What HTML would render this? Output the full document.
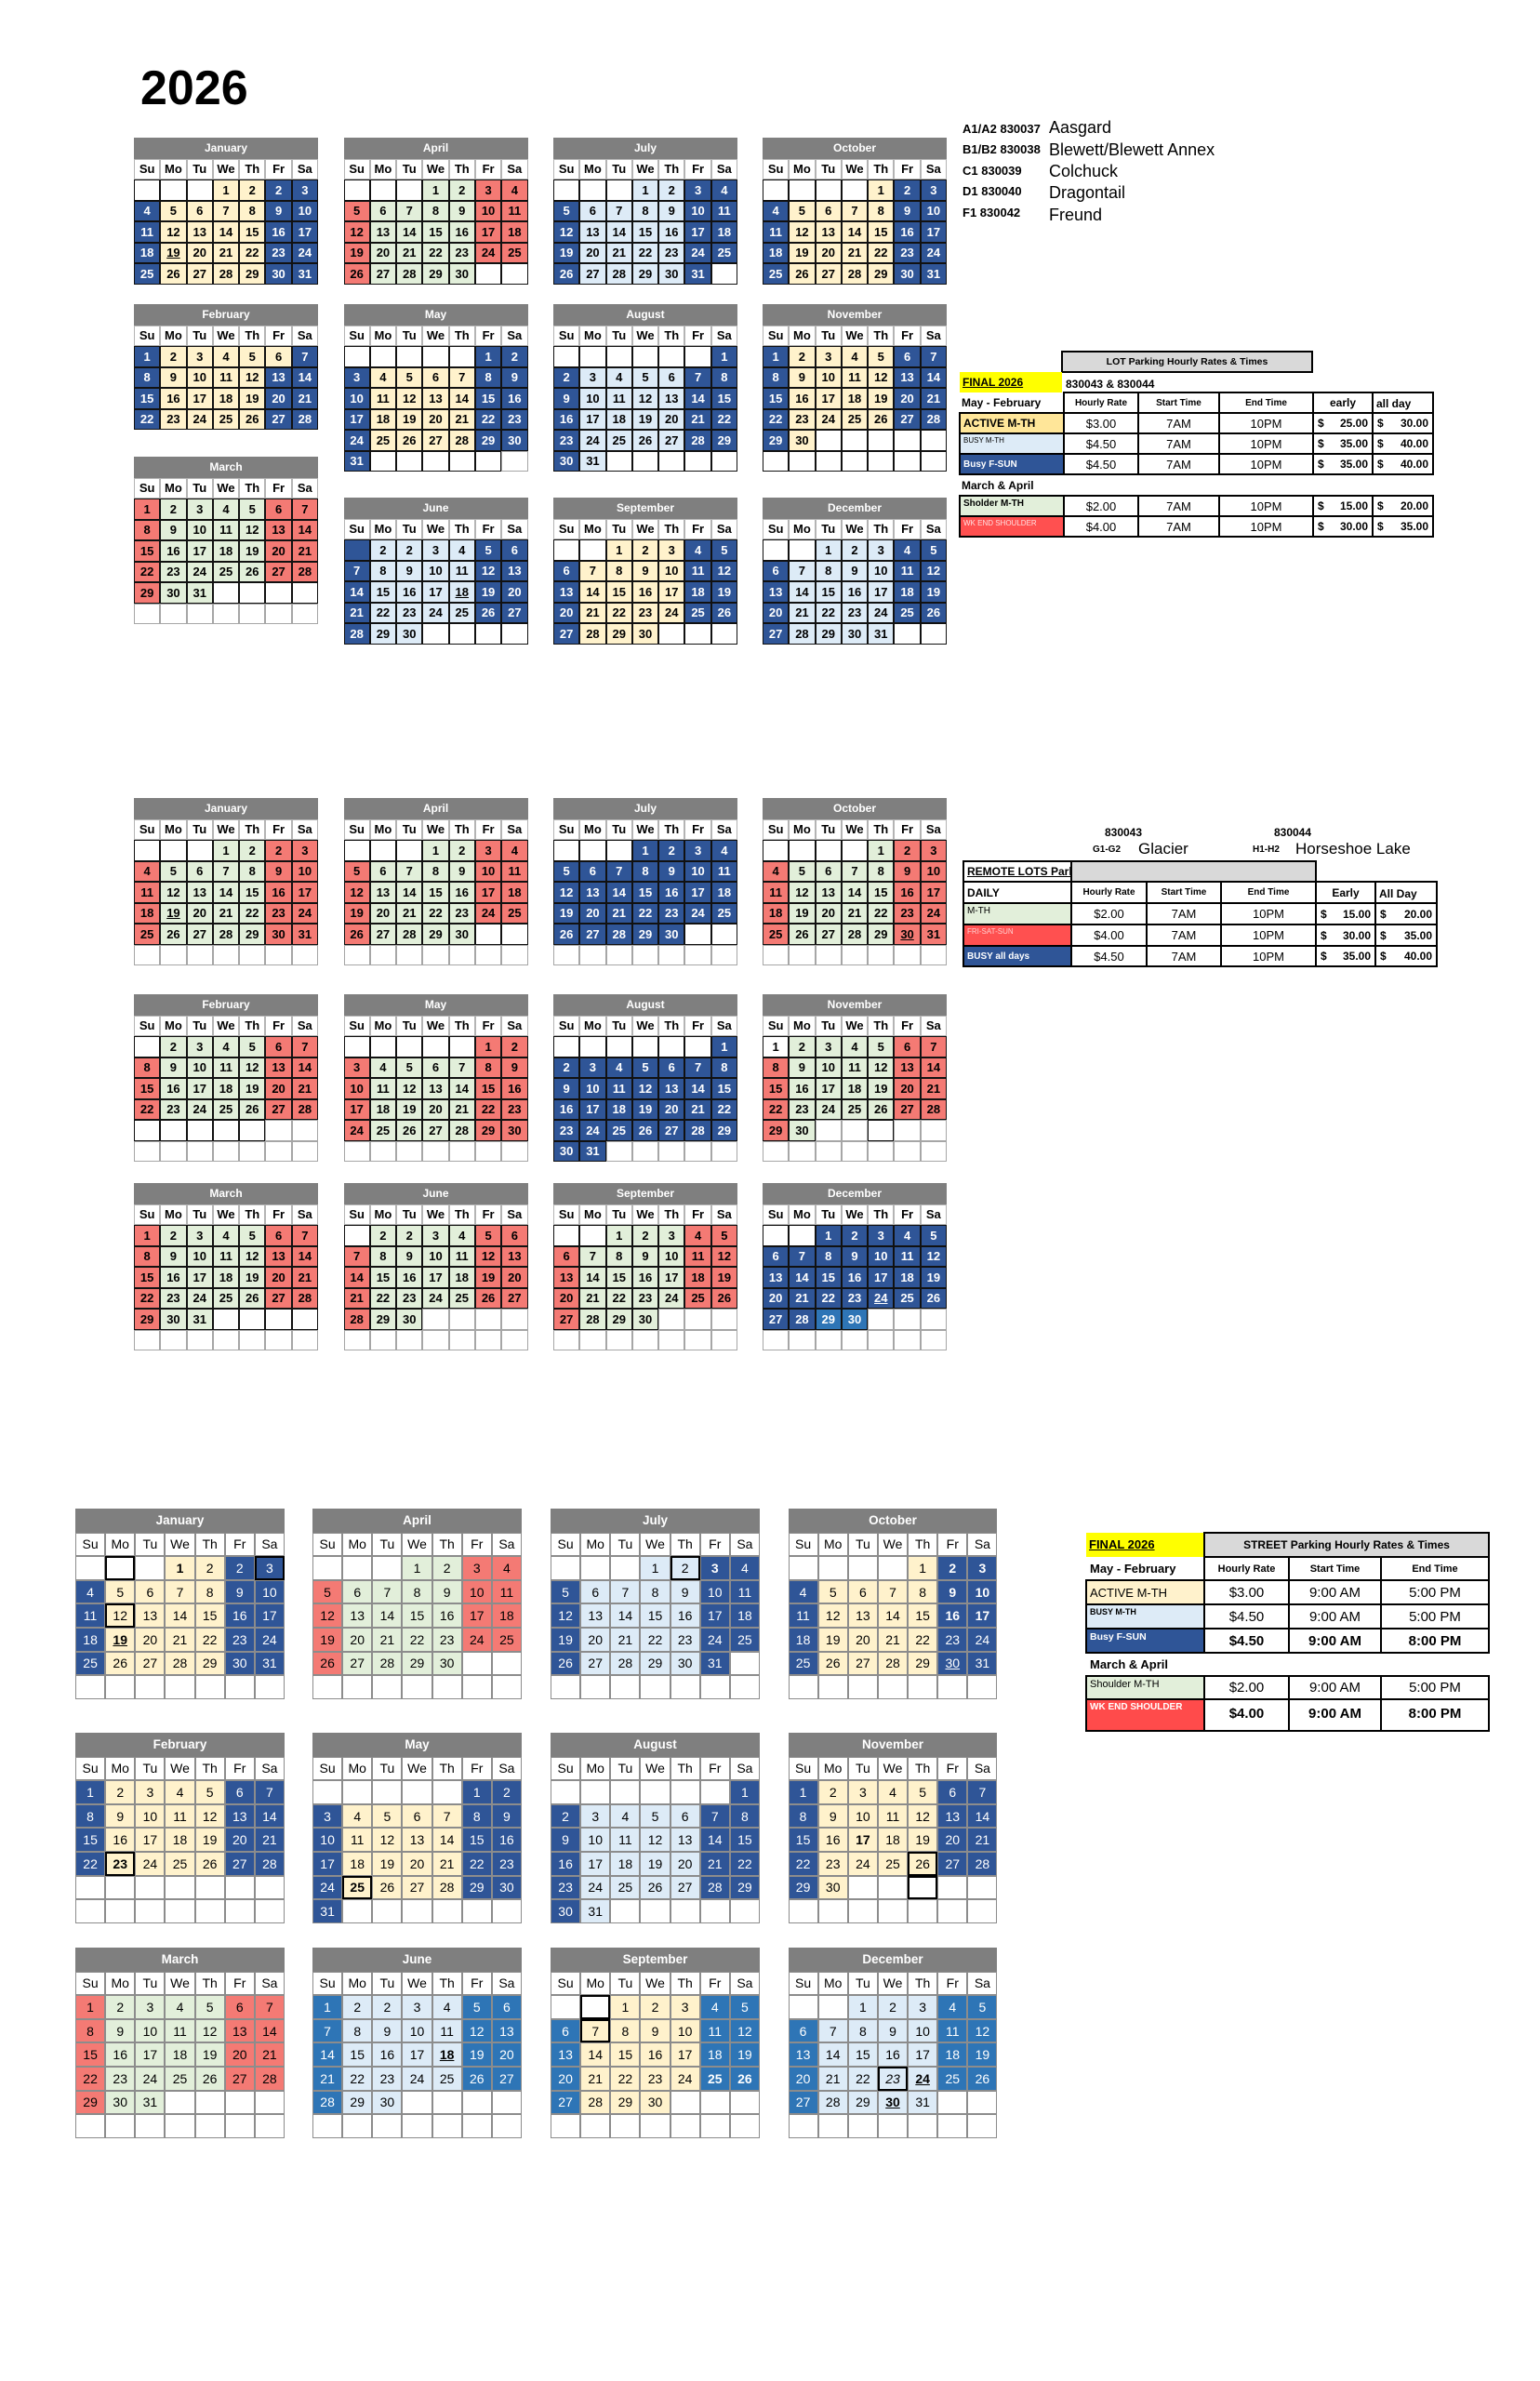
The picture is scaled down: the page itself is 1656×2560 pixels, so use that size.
<!DOCTYPE html>
<html><head><meta charset="utf-8"><style>
body{margin:0;width:1656px;height:2560px;position:relative;background:#fff;font-family:"Liberation Sans",Arial,sans-serif;overflow:hidden;color:#000}
.m{position:absolute;display:grid;grid-template-columns:repeat(7,1fr)}
.m i{font-style:normal;display:flex;align-items:center;justify-content:center;box-sizing:border-box;overflow:hidden;white-space:nowrap;background:#fff}
.a{width:198px;grid-auto-rows:22.5px;font-size:13px;font-weight:bold}
.a i{border:1px solid #111}
.a .h{grid-column:span 7;background:#7f7f7f;color:#fff;font-size:12px;border-color:#7f7f7f}
.a .d{border-color:#b4b4b4;background:#fff}
.a .e{border-color:#a6a6a6}
.c{width:225px;grid-auto-rows:25.6px;font-size:14px}
.c i{border:1px solid #8c8c8c}
.c .h{grid-column:span 7;background:#7f7f7f;color:#fff;font-weight:bold;font-size:13.5px;border-color:#7f7f7f}
.c .k{border:2px solid #000}
.m .b{background:#2f5597;color:#fff}
.m .q{background:#2e75b6;color:#fff}
.m .y{background:#fff2cc}
.m .l{background:#ddebf7}
.m .g{background:#e2efda}
.m .r{background:#f47a74}
.x{font-weight:bold}
.u{text-decoration:underline}
.m .it{font-style:italic}
.p{position:absolute;white-space:nowrap}
.t{position:absolute;box-sizing:border-box;border:2px solid #000;display:flex;align-items:center;justify-content:center;white-space:nowrap;overflow:hidden;background:#fff}
.L{justify-content:flex-start;padding-left:3px}
.T{align-items:flex-start;padding-top:2px}
.D{justify-content:space-between;padding:0 4px;font-weight:bold;font-size:12px}
.B{font-weight:bold}
</style></head><body>

<div class="p B" style="left:151px;top:69px;font-size:52px;line-height:52px">2026</div>

<!-- ================= BLOCK 1 ================= -->
<div class="m a" style="left:144px;top:148px"><i class=h>January</i><i class=d>Su</i><i class=d>Mo</i><i class=d>Tu</i><i class=d>We</i><i class=d>Th</i><i class=d>Fr</i><i class=d>Sa</i>
<i class=w></i><i class=w></i><i class=w></i><i class=y>1</i><i class=y>2</i><i class=b>2</i><i class=b>3</i>
<i class=b>4</i><i class=y>5</i><i class=y>6</i><i class=y>7</i><i class=y>8</i><i class=b>9</i><i class=b>10</i>
<i class=b>11</i><i class=y>12</i><i class=y>13</i><i class=y>14</i><i class=y>15</i><i class=b>16</i><i class=b>17</i>
<i class=b>18</i><i class="y u">19</i><i class=y>20</i><i class=y>21</i><i class=y>22</i><i class=b>23</i><i class=b>24</i>
<i class=b>25</i><i class=y>26</i><i class=y>27</i><i class=y>28</i><i class=y>29</i><i class=b>30</i><i class=b>31</i>
</div>

<div class="m a" style="left:369.5px;top:148px"><i class=h>April</i><i class=d>Su</i><i class=d>Mo</i><i class=d>Tu</i><i class=d>We</i><i class=d>Th</i><i class=d>Fr</i><i class=d>Sa</i>
<i class=w></i><i class=w></i><i class=w></i><i class=g>1</i><i class=g>2</i><i class=r>3</i><i class=r>4</i>
<i class=r>5</i><i class=g>6</i><i class=g>7</i><i class=g>8</i><i class=g>9</i><i class=r>10</i><i class=r>11</i>
<i class=r>12</i><i class=g>13</i><i class=g>14</i><i class=g>15</i><i class=g>16</i><i class=r>17</i><i class=r>18</i>
<i class=r>19</i><i class=g>20</i><i class=g>21</i><i class=g>22</i><i class=g>23</i><i class=r>24</i><i class=r>25</i>
<i class=r>26</i><i class=g>27</i><i class=g>28</i><i class=g>29</i><i class=g>30</i><i class=w></i><i class=w></i>
</div>

<div class="m a" style="left:595px;top:148px"><i class=h>July</i><i class=d>Su</i><i class=d>Mo</i><i class=d>Tu</i><i class=d>We</i><i class=d>Th</i><i class=d>Fr</i><i class=d>Sa</i>
<i class=w></i><i class=w></i><i class=w></i><i class=l>1</i><i class=l>2</i><i class=b>3</i><i class=b>4</i>
<i class=b>5</i><i class=l>6</i><i class=l>7</i><i class=l>8</i><i class=l>9</i><i class=b>10</i><i class=b>11</i>
<i class=b>12</i><i class=l>13</i><i class=l>14</i><i class=l>15</i><i class=l>16</i><i class=b>17</i><i class=b>18</i>
<i class=b>19</i><i class=l>20</i><i class=l>21</i><i class=l>22</i><i class=l>23</i><i class=b>24</i><i class=b>25</i>
<i class=b>26</i><i class=l>27</i><i class=l>28</i><i class=l>29</i><i class=l>30</i><i class=b>31</i><i class=w></i>
</div>

<div class="m a" style="left:820px;top:148px"><i class=h>October</i><i class=d>Su</i><i class=d>Mo</i><i class=d>Tu</i><i class=d>We</i><i class=d>Th</i><i class=d>Fr</i><i class=d>Sa</i>
<i class=w></i><i class=w></i><i class=w></i><i class=w></i><i class=y>1</i><i class=b>2</i><i class=b>3</i>
<i class=b>4</i><i class=y>5</i><i class=y>6</i><i class=y>7</i><i class=y>8</i><i class=b>9</i><i class=b>10</i>
<i class=b>11</i><i class=y>12</i><i class=y>13</i><i class=y>14</i><i class=y>15</i><i class=b>16</i><i class=b>17</i>
<i class=b>18</i><i class=y>19</i><i class=y>20</i><i class=y>21</i><i class=y>22</i><i class=b>23</i><i class=b>24</i>
<i class=b>25</i><i class=y>26</i><i class=y>27</i><i class=y>28</i><i class=y>29</i><i class=b>30</i><i class=b>31</i>
</div>

<div class="m a" style="left:144px;top:327px"><i class=h>February</i><i class=d>Su</i><i class=d>Mo</i><i class=d>Tu</i><i class=d>We</i><i class=d>Th</i><i class=d>Fr</i><i class=d>Sa</i>
<i class=b>1</i><i class=y>2</i><i class=y>3</i><i class=y>4</i><i class=y>5</i><i class=y>6</i><i class=b>7</i>
<i class=b>8</i><i class=y>9</i><i class=y>10</i><i class=y>11</i><i class=y>12</i><i class=b>13</i><i class=b>14</i>
<i class=b>15</i><i class=y>16</i><i class=y>17</i><i class=y>18</i><i class=y>19</i><i class=b>20</i><i class=b>21</i>
<i class=b>22</i><i class=y>23</i><i class=y>24</i><i class=y>25</i><i class=y>26</i><i class=b>27</i><i class=b>28</i>
</div>

<div class="m a" style="left:369.5px;top:327px"><i class=h>May</i><i class=d>Su</i><i class=d>Mo</i><i class=d>Tu</i><i class=d>We</i><i class=d>Th</i><i class=d>Fr</i><i class=d>Sa</i>
<i class=w></i><i class=w></i><i class=w></i><i class=w></i><i class=w></i><i class=b>1</i><i class=b>2</i>
<i class=b>3</i><i class=y>4</i><i class=y>5</i><i class=y>6</i><i class=y>7</i><i class=b>8</i><i class=b>9</i>
<i class=b>10</i><i class=y>11</i><i class=y>12</i><i class=y>13</i><i class=y>14</i><i class=b>15</i><i class=b>16</i>
<i class=b>17</i><i class=y>18</i><i class=y>19</i><i class=y>20</i><i class=y>21</i><i class=b>22</i><i class=b>23</i>
<i class=b>24</i><i class=y>25</i><i class=y>26</i><i class=y>27</i><i class=y>28</i><i class=b>29</i><i class=b>30</i>
<i class=b>31</i><i class=w></i><i class=w></i><i class=w></i><i class=w></i><i class=w></i><i class=e></i>
</div>

<div class="m a" style="left:595px;top:327px"><i class=h>August</i><i class=d>Su</i><i class=d>Mo</i><i class=d>Tu</i><i class=d>We</i><i class=d>Th</i><i class=d>Fr</i><i class=d>Sa</i>
<i class=w></i><i class=w></i><i class=w></i><i class=w></i><i class=w></i><i class=w></i><i class=b>1</i>
<i class=b>2</i><i class=l>3</i><i class=l>4</i><i class=l>5</i><i class=l>6</i><i class=b>7</i><i class=b>8</i>
<i class=b>9</i><i class=l>10</i><i class=l>11</i><i class=l>12</i><i class=l>13</i><i class=b>14</i><i class=b>15</i>
<i class=b>16</i><i class=l>17</i><i class=l>18</i><i class=l>19</i><i class=l>20</i><i class=b>21</i><i class=b>22</i>
<i class=b>23</i><i class=l>24</i><i class=l>25</i><i class=l>26</i><i class=l>27</i><i class=b>28</i><i class=b>29</i>
<i class=b>30</i><i class=l>31</i><i class=w></i><i class=w></i><i class=w></i><i class=w></i><i class=w></i>
</div>

<div class="m a" style="left:820px;top:327px"><i class=h>November</i><i class=d>Su</i><i class=d>Mo</i><i class=d>Tu</i><i class=d>We</i><i class=d>Th</i><i class=d>Fr</i><i class=d>Sa</i>
<i class=b>1</i><i class=y>2</i><i class=y>3</i><i class=y>4</i><i class=y>5</i><i class=b>6</i><i class=b>7</i>
<i class=b>8</i><i class=y>9</i><i class=y>10</i><i class=y>11</i><i class=y>12</i><i class=b>13</i><i class=b>14</i>
<i class=b>15</i><i class=y>16</i><i class=y>17</i><i class=y>18</i><i class=y>19</i><i class=b>20</i><i class=b>21</i>
<i class=b>22</i><i class=y>23</i><i class=y>24</i><i class=y>25</i><i class=y>26</i><i class=b>27</i><i class=b>28</i>
<i class=b>29</i><i class=y>30</i><i class=w></i><i class=w></i><i class=w></i><i class=w></i><i class=w></i>
<i class=w></i><i class=w></i><i class=w></i><i class=w></i><i class=w></i><i class=w></i><i class=w></i>
</div>

<div class="m a" style="left:144px;top:491px"><i class=h>March</i><i class=d>Su</i><i class=d>Mo</i><i class=d>Tu</i><i class=d>We</i><i class=d>Th</i><i class=d>Fr</i><i class=d>Sa</i>
<i class=r>1</i><i class=g>2</i><i class=g>3</i><i class=g>4</i><i class=g>5</i><i class=r>6</i><i class=r>7</i>
<i class=r>8</i><i class=g>9</i><i class=g>10</i><i class=g>11</i><i class=g>12</i><i class=r>13</i><i class=r>14</i>
<i class=r>15</i><i class=g>16</i><i class=g>17</i><i class=g>18</i><i class=g>19</i><i class=r>20</i><i class=r>21</i>
<i class=r>22</i><i class=g>23</i><i class=g>24</i><i class=g>25</i><i class=g>26</i><i class=r>27</i><i class=r>28</i>
<i class=r>29</i><i class=g>30</i><i class=g>31</i><i class=w></i><i class=w></i><i class=w></i><i class=w></i>
<i class=e></i><i class=e></i><i class=e></i><i class=e></i><i class=e></i><i class=e></i><i class=e></i>
</div>

<div class="m a" style="left:369.5px;top:535px"><i class=h>June</i><i class=d>Su</i><i class=d>Mo</i><i class=d>Tu</i><i class=d>We</i><i class=d>Th</i><i class=d>Fr</i><i class=d>Sa</i>
<i class=b></i><i class=l>2</i><i class=l>2</i><i class=l>3</i><i class=l>4</i><i class=b>5</i><i class=b>6</i>
<i class=b>7</i><i class=l>8</i><i class=l>9</i><i class=l>10</i><i class=l>11</i><i class=b>12</i><i class=b>13</i>
<i class=b>14</i><i class=l>15</i><i class=l>16</i><i class=l>17</i><i class="l u">18</i><i class=b>19</i><i class=b>20</i>
<i class=b>21</i><i class=l>22</i><i class=l>23</i><i class=l>24</i><i class=l>25</i><i class=b>26</i><i class=b>27</i>
<i class=b>28</i><i class=l>29</i><i class=l>30</i><i class=w></i><i class=w></i><i class=w></i><i class=w></i>
</div>

<div class="m a" style="left:595px;top:535px"><i class=h>September</i><i class=d>Su</i><i class=d>Mo</i><i class=d>Tu</i><i class=d>We</i><i class=d>Th</i><i class=d>Fr</i><i class=d>Sa</i>
<i class=w></i><i class=w></i><i class=y>1</i><i class=y>2</i><i class=y>3</i><i class=b>4</i><i class=b>5</i>
<i class=b>6</i><i class=y>7</i><i class=y>8</i><i class=y>9</i><i class=y>10</i><i class=b>11</i><i class=b>12</i>
<i class=b>13</i><i class=y>14</i><i class=y>15</i><i class=y>16</i><i class=y>17</i><i class=b>18</i><i class=b>19</i>
<i class=b>20</i><i class=y>21</i><i class=y>22</i><i class=y>23</i><i class=y>24</i><i class=b>25</i><i class=b>26</i>
<i class=b>27</i><i class=y>28</i><i class=y>29</i><i class=y>30</i><i class=w></i><i class=w></i><i class=w></i>
</div>

<div class="m a" style="left:820px;top:535px"><i class=h>December</i><i class=d>Su</i><i class=d>Mo</i><i class=d>Tu</i><i class=d>We</i><i class=d>Th</i><i class=d>Fr</i><i class=d>Sa</i>
<i class=w></i><i class=w></i><i class=l>1</i><i class=l>2</i><i class=l>3</i><i class=b>4</i><i class=b>5</i>
<i class=b>6</i><i class=l>7</i><i class=l>8</i><i class=l>9</i><i class=l>10</i><i class=b>11</i><i class=b>12</i>
<i class=b>13</i><i class=l>14</i><i class=l>15</i><i class=l>16</i><i class=l>17</i><i class=b>18</i><i class=b>19</i>
<i class=b>20</i><i class=l>21</i><i class=l>22</i><i class=l>23</i><i class=l>24</i><i class=b>25</i><i class=b>26</i>
<i class=b>27</i><i class=l>28</i><i class=l>29</i><i class=l>30</i><i class=l>31</i><i class=w></i><i class=w></i>
</div>

<!-- Legend 1 -->
<div class="p B" style="left:1035px;top:128px;line-height:22px;font-size:13px">A1/A2 830037</div>
<div class="p" style="left:1128px;top:126px;line-height:22px;font-size:18px">Aasgard</div>
<div class="p B" style="left:1035px;top:150px;line-height:22px;font-size:13px">B1/B2 830038</div>
<div class="p" style="left:1128px;top:150px;line-height:22px;font-size:18px">Blewett/Blewett Annex</div>
<div class="p B" style="left:1035px;top:173px;line-height:22px;font-size:13px">C1 830039</div>
<div class="p" style="left:1128px;top:173px;line-height:22px;font-size:18px">Colchuck</div>
<div class="p B" style="left:1035px;top:195px;line-height:22px;font-size:13px">D1 830040</div>
<div class="p" style="left:1128px;top:196px;line-height:22px;font-size:18px">Dragontail</div>
<div class="p B" style="left:1035px;top:218px;line-height:22px;font-size:13px">F1 830042</div>
<div class="p" style="left:1128px;top:220px;line-height:22px;font-size:18px">Freund</div>

<div class="t B" style="left:1141px;top:377px;width:271px;height:24px;background:#d9d9d9;font-size:10.5px">LOT Parking Hourly Rates &amp; Times</div>
<div class="p B u" style="left:1032px;top:400px;width:107px;height:22px;line-height:22px;background:#ffff00;font-size:12px;padding-left:3px">FINAL 2026</div>
<div class="p B" style="left:1146px;top:402px;line-height:22px;font-size:12px">830043 &amp; 830044</div>
<div class="p B" style="left:1034px;top:422px;line-height:22px;font-size:12px">May - February</div>
<div class="t B" style="left:1143px;top:421px;width:82px;height:24px;font-size:10px">Hourly Rate</div>
<div class="t B" style="left:1223px;top:421px;width:89px;height:24px;font-size:10px">Start Time</div>
<div class="t B" style="left:1310px;top:421px;width:103px;height:24px;font-size:10px">End Time</div>
<div class="t B" style="left:1411px;top:421px;width:66px;height:24px;font-size:12px">early</div>
<div class="t B L" style="left:1475px;top:421px;width:67px;height:24px;font-size:12px;align-items:flex-end;padding-bottom:2px">all day</div>

<div class="t B L" style="left:1031px;top:443px;width:114px;height:24px;background:#ffe699;font-size:12px">ACTIVE M-TH</div>
<div class="t" style="left:1143px;top:443px;width:82px;height:24px;font-size:13px">$3.00</div>
<div class="t" style="left:1223px;top:443px;width:89px;height:24px;font-size:13px">7AM</div>
<div class="t" style="left:1310px;top:443px;width:103px;height:24px;font-size:13px">10PM</div>
<div class="t D" style="left:1411px;top:443px;width:66px;height:24px"><span>$</span><span>25.00</span></div>
<div class="t D" style="left:1475px;top:443px;width:67px;height:24px"><span>$</span><span>30.00</span></div>

<div class="t L T" style="left:1031px;top:465px;width:114px;height:24px;background:#ddebf7;font-size:8px">BUSY M-TH</div>
<div class="t" style="left:1143px;top:465px;width:82px;height:24px;font-size:13px">$4.50</div>
<div class="t" style="left:1223px;top:465px;width:89px;height:24px;font-size:13px">7AM</div>
<div class="t" style="left:1310px;top:465px;width:103px;height:24px;font-size:13px">10PM</div>
<div class="t D" style="left:1411px;top:465px;width:66px;height:24px"><span>$</span><span>35.00</span></div>
<div class="t D" style="left:1475px;top:465px;width:67px;height:24px"><span>$</span><span>40.00</span></div>

<div class="t B L" style="left:1031px;top:487px;width:114px;height:24px;background:#2f5597;color:#fff;font-size:10px">Busy F-SUN</div>
<div class="t" style="left:1143px;top:487px;width:82px;height:24px;font-size:13px">$4.50</div>
<div class="t" style="left:1223px;top:487px;width:89px;height:24px;font-size:13px">7AM</div>
<div class="t" style="left:1310px;top:487px;width:103px;height:24px;font-size:13px">10PM</div>
<div class="t D" style="left:1411px;top:487px;width:66px;height:24px"><span>$</span><span>35.00</span></div>
<div class="t D" style="left:1475px;top:487px;width:67px;height:24px"><span>$</span><span>40.00</span></div>

<div class="p B" style="left:1034px;top:511px;line-height:22px;font-size:12px">March &amp; April</div>

<div class="t B L T" style="left:1031px;top:532px;width:114px;height:24px;background:#e2efda;font-size:10px">Sholder M-TH</div>
<div class="t" style="left:1143px;top:532px;width:82px;height:24px;font-size:13px">$2.00</div>
<div class="t" style="left:1223px;top:532px;width:89px;height:24px;font-size:13px">7AM</div>
<div class="t" style="left:1310px;top:532px;width:103px;height:24px;font-size:13px">10PM</div>
<div class="t D" style="left:1411px;top:532px;width:66px;height:24px"><span>$</span><span>15.00</span></div>
<div class="t D" style="left:1475px;top:532px;width:67px;height:24px"><span>$</span><span>20.00</span></div>

<div class="t L T" style="left:1031px;top:554px;width:114px;height:24px;background:#ff5050;color:#ffe0e0;font-size:8px">WK END SHOULDER</div>
<div class="t" style="left:1143px;top:554px;width:82px;height:24px;font-size:13px">$4.00</div>
<div class="t" style="left:1223px;top:554px;width:89px;height:24px;font-size:13px">7AM</div>
<div class="t" style="left:1310px;top:554px;width:103px;height:24px;font-size:13px">10PM</div>
<div class="t D" style="left:1411px;top:554px;width:66px;height:24px"><span>$</span><span>30.00</span></div>
<div class="t D" style="left:1475px;top:554px;width:67px;height:24px"><span>$</span><span>35.00</span></div>

<!-- ================= BLOCK 2 ================= -->
<div class="m a" style="left:144px;top:858px"><i class=h>January</i><i class=d>Su</i><i class=d>Mo</i><i class=d>Tu</i><i class=d>We</i><i class=d>Th</i><i class=d>Fr</i><i class=d>Sa</i>
<i class=w></i><i class=w></i><i class=w></i><i class=g>1</i><i class=g>2</i><i class=r>2</i><i class=r>3</i>
<i class=r>4</i><i class=g>5</i><i class=g>6</i><i class=g>7</i><i class=g>8</i><i class=r>9</i><i class=r>10</i>
<i class=r>11</i><i class=g>12</i><i class=g>13</i><i class=g>14</i><i class=g>15</i><i class=r>16</i><i class=r>17</i>
<i class=r>18</i><i class="g u">19</i><i class=g>20</i><i class=g>21</i><i class=g>22</i><i class=r>23</i><i class=r>24</i>
<i class=r>25</i><i class=g>26</i><i class=g>27</i><i class=g>28</i><i class=g>29</i><i class=r>30</i><i class=r>31</i>
<i class=e></i><i class=e></i><i class=e></i><i class=e></i><i class=e></i><i class=e></i><i class=e></i>
</div>

<div class="m a" style="left:369.5px;top:858px"><i class=h>April</i><i class=d>Su</i><i class=d>Mo</i><i class=d>Tu</i><i class=d>We</i><i class=d>Th</i><i class=d>Fr</i><i class=d>Sa</i>
<i class=w></i><i class=w></i><i class=w></i><i class=g>1</i><i class=g>2</i><i class=r>3</i><i class=r>4</i>
<i class=r>5</i><i class=g>6</i><i class=g>7</i><i class=g>8</i><i class=g>9</i><i class=r>10</i><i class=r>11</i>
<i class=r>12</i><i class=g>13</i><i class=g>14</i><i class=g>15</i><i class=g>16</i><i class=r>17</i><i class=r>18</i>
<i class=r>19</i><i class=g>20</i><i class=g>21</i><i class=g>22</i><i class=g>23</i><i class=r>24</i><i class=r>25</i>
<i class=r>26</i><i class=g>27</i><i class=g>28</i><i class=g>29</i><i class=g>30</i><i class=w></i><i class=w></i>
<i class=e></i><i class=e></i><i class=e></i><i class=e></i><i class=e></i><i class=e></i><i class=e></i>
</div>

<div class="m a" style="left:595px;top:858px"><i class=h>July</i><i class=d>Su</i><i class=d>Mo</i><i class=d>Tu</i><i class=d>We</i><i class=d>Th</i><i class=d>Fr</i><i class=d>Sa</i>
<i class=w></i><i class=w></i><i class=w></i><i class=b>1</i><i class=b>2</i><i class=b>3</i><i class=b>4</i>
<i class=b>5</i><i class=b>6</i><i class=b>7</i><i class=b>8</i><i class=b>9</i><i class=b>10</i><i class=b>11</i>
<i class=b>12</i><i class=b>13</i><i class=b>14</i><i class=b>15</i><i class=b>16</i><i class=b>17</i><i class=b>18</i>
<i class=b>19</i><i class=b>20</i><i class=b>21</i><i class=b>22</i><i class=b>23</i><i class=b>24</i><i class=b>25</i>
<i class=b>26</i><i class=b>27</i><i class=b>28</i><i class=b>29</i><i class=b>30</i><i class=w></i><i class=w></i>
<i class=e></i><i class=e></i><i class=e></i><i class=e></i><i class=e></i><i class=e></i><i class=e></i>
</div>

<div class="m a" style="left:820px;top:858px"><i class=h>October</i><i class=d>Su</i><i class=d>Mo</i><i class=d>Tu</i><i class=d>We</i><i class=d>Th</i><i class=d>Fr</i><i class=d>Sa</i>
<i class=w></i><i class=w></i><i class=w></i><i class=w></i><i class=g>1</i><i class=r>2</i><i class=r>3</i>
<i class=r>4</i><i class=g>5</i><i class=g>6</i><i class=g>7</i><i class=g>8</i><i class=r>9</i><i class=r>10</i>
<i class=r>11</i><i class=g>12</i><i class=g>13</i><i class=g>14</i><i class=g>15</i><i class=r>16</i><i class=r>17</i>
<i class=r>18</i><i class=g>19</i><i class=g>20</i><i class=g>21</i><i class=g>22</i><i class=r>23</i><i class=r>24</i>
<i class=r>25</i><i class=g>26</i><i class=g>27</i><i class=g>28</i><i class=g>29</i><i class="r u">30</i><i class=r>31</i>
<i class=e></i><i class=e></i><i class=e></i><i class=e></i><i class=e></i><i class=e></i><i class=e></i>
</div>

<div class="m a" style="left:144px;top:1069px"><i class=h>February</i><i class=d>Su</i><i class=d>Mo</i><i class=d>Tu</i><i class=d>We</i><i class=d>Th</i><i class=d>Fr</i><i class=d>Sa</i>
<i class=w></i><i class=g>2</i><i class=g>3</i><i class=g>4</i><i class=g>5</i><i class=r>6</i><i class=r>7</i>
<i class=r>8</i><i class=g>9</i><i class=g>10</i><i class=g>11</i><i class=g>12</i><i class=r>13</i><i class=r>14</i>
<i class=r>15</i><i class=g>16</i><i class=g>17</i><i class=g>18</i><i class=g>19</i><i class=r>20</i><i class=r>21</i>
<i class=r>22</i><i class=g>23</i><i class=g>24</i><i class=g>25</i><i class=g>26</i><i class=r>27</i><i class=r>28</i>
<i class=w></i><i class=w></i><i class=w></i><i class=w></i><i class=w></i><i class=e></i><i class=e></i>
<i class=e></i><i class=e></i><i class=e></i><i class=e></i><i class=e></i><i class=e></i><i class=e></i>
</div>

<div class="m a" style="left:369.5px;top:1069px"><i class=h>May</i><i class=d>Su</i><i class=d>Mo</i><i class=d>Tu</i><i class=d>We</i><i class=d>Th</i><i class=d>Fr</i><i class=d>Sa</i>
<i class=w></i><i class=w></i><i class=w></i><i class=w></i><i class=w></i><i class=r>1</i><i class=r>2</i>
<i class=r>3</i><i class=g>4</i><i class=g>5</i><i class=g>6</i><i class=g>7</i><i class=r>8</i><i class=r>9</i>
<i class=r>10</i><i class=g>11</i><i class=g>12</i><i class=g>13</i><i class=g>14</i><i class=r>15</i><i class=r>16</i>
<i class=r>17</i><i class=g>18</i><i class=g>19</i><i class=g>20</i><i class=g>21</i><i class=r>22</i><i class=r>23</i>
<i class=r>24</i><i class=g>25</i><i class=g>26</i><i class=g>27</i><i class=g>28</i><i class=r>29</i><i class=r>30</i>
<i class=e></i><i class=e></i><i class=e></i><i class=e></i><i class=e></i><i class=e></i><i class=e></i>
</div>

<div class="m a" style="left:595px;top:1069px"><i class=h>August</i><i class=d>Su</i><i class=d>Mo</i><i class=d>Tu</i><i class=d>We</i><i class=d>Th</i><i class=d>Fr</i><i class=d>Sa</i>
<i class=w></i><i class=w></i><i class=w></i><i class=w></i><i class=w></i><i class=w></i><i class=b>1</i>
<i class=b>2</i><i class=b>3</i><i class=b>4</i><i class=b>5</i><i class=b>6</i><i class=b>7</i><i class=b>8</i>
<i class=b>9</i><i class=b>10</i><i class=b>11</i><i class=b>12</i><i class=b>13</i><i class=b>14</i><i class=b>15</i>
<i class=b>16</i><i class=b>17</i><i class=b>18</i><i class=b>19</i><i class=b>20</i><i class=b>21</i><i class=b>22</i>
<i class=b>23</i><i class=b>24</i><i class=b>25</i><i class=b>26</i><i class=b>27</i><i class=b>28</i><i class=b>29</i>
<i class=b>30</i><i class=b>31</i><i class=e></i><i class=e></i><i class=e></i><i class=e></i><i class=e></i>
</div>

<div class="m a" style="left:820px;top:1069px"><i class=h>November</i><i class=d>Su</i><i class=d>Mo</i><i class=d>Tu</i><i class=d>We</i><i class=d>Th</i><i class=d>Fr</i><i class=d>Sa</i>
<i class=w>1</i><i class=g>2</i><i class=g>3</i><i class=g>4</i><i class=g>5</i><i class=r>6</i><i class=r>7</i>
<i class=r>8</i><i class=g>9</i><i class=g>10</i><i class=g>11</i><i class=g>12</i><i class=r>13</i><i class=r>14</i>
<i class=r>15</i><i class=g>16</i><i class=g>17</i><i class=g>18</i><i class=g>19</i><i class=r>20</i><i class=r>21</i>
<i class=r>22</i><i class=g>23</i><i class=g>24</i><i class=g>25</i><i class=g>26</i><i class=r>27</i><i class=r>28</i>
<i class=r>29</i><i class=g>30</i><i class=e></i><i class=e></i><i class=w></i><i class=e></i><i class=e></i>
<i class=e></i><i class=e></i><i class=e></i><i class=e></i><i class=e></i><i class=e></i><i class=e></i>
</div>

<div class="m a" style="left:144px;top:1272px"><i class=h>March</i><i class=d>Su</i><i class=d>Mo</i><i class=d>Tu</i><i class=d>We</i><i class=d>Th</i><i class=d>Fr</i><i class=d>Sa</i>
<i class=r>1</i><i class=g>2</i><i class=g>3</i><i class=g>4</i><i class=g>5</i><i class=r>6</i><i class=r>7</i>
<i class=r>8</i><i class=g>9</i><i class=g>10</i><i class=g>11</i><i class=g>12</i><i class=r>13</i><i class=r>14</i>
<i class=r>15</i><i class=g>16</i><i class=g>17</i><i class=g>18</i><i class=g>19</i><i class=r>20</i><i class=r>21</i>
<i class=r>22</i><i class=g>23</i><i class=g>24</i><i class=g>25</i><i class=g>26</i><i class=r>27</i><i class=r>28</i>
<i class=r>29</i><i class=g>30</i><i class=g>31</i><i class=w></i><i class=w></i><i class=w></i><i class=w></i>
<i class=e></i><i class=e></i><i class=e></i><i class=e></i><i class=e></i><i class=e></i><i class=e></i>
</div>

<div class="m a" style="left:369.5px;top:1272px"><i class=h>June</i><i class=d>Su</i><i class=d>Mo</i><i class=d>Tu</i><i class=d>We</i><i class=d>Th</i><i class=d>Fr</i><i class=d>Sa</i>
<i class=w></i><i class=g>2</i><i class=g>2</i><i class=g>3</i><i class=g>4</i><i class=r>5</i><i class=r>6</i>
<i class=r>7</i><i class=g>8</i><i class=g>9</i><i class=g>10</i><i class=g>11</i><i class=r>12</i><i class=r>13</i>
<i class=r>14</i><i class=g>15</i><i class=g>16</i><i class=g>17</i><i class=g>18</i><i class=r>19</i><i class=r>20</i>
<i class=r>21</i><i class=g>22</i><i class=g>23</i><i class=g>24</i><i class=g>25</i><i class=r>26</i><i class=r>27</i>
<i class=r>28</i><i class=g>29</i><i class=g>30</i><i class=e></i><i class=e></i><i class=e></i><i class=e></i>
<i class=e></i><i class=e></i><i class=e></i><i class=e></i><i class=e></i><i class=e></i><i class=e></i>
</div>

<div class="m a" style="left:595px;top:1272px"><i class=h>September</i><i class=d>Su</i><i class=d>Mo</i><i class=d>Tu</i><i class=d>We</i><i class=d>Th</i><i class=d>Fr</i><i class=d>Sa</i>
<i class=w></i><i class=w></i><i class=g>1</i><i class=g>2</i><i class=g>3</i><i class=r>4</i><i class=r>5</i>
<i class=r>6</i><i class=g>7</i><i class=g>8</i><i class=g>9</i><i class=g>10</i><i class=r>11</i><i class=r>12</i>
<i class=r>13</i><i class=g>14</i><i class=g>15</i><i class=g>16</i><i class=g>17</i><i class=r>18</i><i class=r>19</i>
<i class=r>20</i><i class=g>21</i><i class=g>22</i><i class=g>23</i><i class=g>24</i><i class=r>25</i><i class=r>26</i>
<i class=r>27</i><i class=g>28</i><i class=g>29</i><i class=g>30</i><i class=e></i><i class=e></i><i class=e></i>
<i class=e></i><i class=e></i><i class=e></i><i class=e></i><i class=e></i><i class=e></i><i class=e></i>
</div>

<div class="m a" style="left:820px;top:1272px"><i class=h>December</i><i class=d>Su</i><i class=d>Mo</i><i class=d>Tu</i><i class=d>We</i><i class=d>Th</i><i class=d>Fr</i><i class=d>Sa</i>
<i class=w></i><i class=w></i><i class=b>1</i><i class=b>2</i><i class=b>3</i><i class=b>4</i><i class=b>5</i>
<i class=b>6</i><i class=b>7</i><i class=b>8</i><i class=b>9</i><i class=b>10</i><i class=b>11</i><i class=b>12</i>
<i class=b>13</i><i class=b>14</i><i class=b>15</i><i class=b>16</i><i class=b>17</i><i class=b>18</i><i class=b>19</i>
<i class=b>20</i><i class=b>21</i><i class=b>22</i><i class=b>23</i><i class="b u">24</i><i class=b>25</i><i class=b>26</i>
<i class=b>27</i><i class=b>28</i><i class=q>29</i><i class=q>30</i><i class=e></i><i class=e></i><i class=e></i>
<i class=e></i><i class=e></i><i class=e></i><i class=e></i><i class=e></i><i class=e></i><i class=e></i>
</div>

<!-- Legend 2 -->
<div class="p B" style="left:1178px;top:884px;width:60px;text-align:center;line-height:22px;font-size:12px">830043</div>
<div class="p B" style="left:1175px;top:903px;line-height:22px;font-size:10px">G1-G2</div>
<div class="p" style="left:1224px;top:902px;line-height:22px;font-size:17px">Glacier</div>
<div class="p B" style="left:1360px;top:884px;width:60px;text-align:center;line-height:22px;font-size:12px">830044</div>
<div class="p B" style="left:1347px;top:903px;line-height:22px;font-size:10px">H1-H2</div>
<div class="p" style="left:1393px;top:902px;line-height:22px;font-size:17px">Horseshoe Lake</div>

<div class="t B L" style="left:1035px;top:925px;width:118px;height:24px;font-size:12px"><span class=u>REMOTE LOTS Parki</span></div>
<div class="t" style="left:1151px;top:925px;width:265px;height:24px;background:#d9d9d9"></div>
<div class="t B L" style="left:1035px;top:947px;width:118px;height:25px;font-size:12px">DAILY</div>
<div class="t B" style="left:1151px;top:947px;width:83px;height:25px;font-size:10px">Hourly Rate</div>
<div class="t B" style="left:1232px;top:947px;width:82px;height:25px;font-size:10px">Start Time</div>
<div class="t B" style="left:1312px;top:947px;width:104px;height:25px;font-size:10px">End Time</div>
<div class="t B" style="left:1414px;top:947px;width:66px;height:25px;font-size:12px">Early</div>
<div class="t B L" style="left:1478px;top:947px;width:68px;height:25px;font-size:12px;align-items:flex-end;padding-bottom:2px">All Day</div>

<div class="t L T" style="left:1035px;top:970px;width:118px;height:25px;background:#e2efda;font-size:10px">M-TH</div>
<div class="t" style="left:1151px;top:970px;width:83px;height:25px;font-size:13px">$2.00</div>
<div class="t" style="left:1232px;top:970px;width:82px;height:25px;font-size:13px">7AM</div>
<div class="t" style="left:1312px;top:970px;width:104px;height:25px;font-size:13px">10PM</div>
<div class="t D" style="left:1414px;top:970px;width:66px;height:25px"><span>$</span><span>15.00</span></div>
<div class="t D" style="left:1478px;top:970px;width:68px;height:25px"><span>$</span><span>20.00</span></div>

<div class="t L T" style="left:1035px;top:993px;width:118px;height:25px;background:#ff5050;color:#ffd0d0;font-size:8px">FRI-SAT-SUN</div>
<div class="t" style="left:1151px;top:993px;width:83px;height:25px;font-size:13px">$4.00</div>
<div class="t" style="left:1232px;top:993px;width:82px;height:25px;font-size:13px">7AM</div>
<div class="t" style="left:1312px;top:993px;width:104px;height:25px;font-size:13px">10PM</div>
<div class="t D" style="left:1414px;top:993px;width:66px;height:25px"><span>$</span><span>30.00</span></div>
<div class="t D" style="left:1478px;top:993px;width:68px;height:25px"><span>$</span><span>35.00</span></div>

<div class="t B L" style="left:1035px;top:1016px;width:118px;height:24px;background:#2f5597;color:#fff;font-size:10px">BUSY all days</div>
<div class="t" style="left:1151px;top:1016px;width:83px;height:24px;font-size:13px">$4.50</div>
<div class="t" style="left:1232px;top:1016px;width:82px;height:24px;font-size:13px">7AM</div>
<div class="t" style="left:1312px;top:1016px;width:104px;height:24px;font-size:13px">10PM</div>
<div class="t D" style="left:1414px;top:1016px;width:66px;height:24px"><span>$</span><span>35.00</span></div>
<div class="t D" style="left:1478px;top:1016px;width:68px;height:24px"><span>$</span><span>40.00</span></div>

<!-- ================= BLOCK 3 ================= -->
<div class="m c" style="left:81px;top:1622px"><i class=h>January</i><i class=d>Su</i><i class=d>Mo</i><i class=d>Tu</i><i class=d>We</i><i class=d>Th</i><i class=d>Fr</i><i class=d>Sa</i>
<i></i><i class=k></i><i></i><i class="y x">1</i><i class=y>2</i><i class=b>2</i><i class="b k">3</i>
<i class=b>4</i><i class=y>5</i><i class=y>6</i><i class=y>7</i><i class=y>8</i><i class=b>9</i><i class=b>10</i>
<i class=b>11</i><i class="y k">12</i><i class=y>13</i><i class=y>14</i><i class=y>15</i><i class=b>16</i><i class=b>17</i>
<i class=b>18</i><i class="y x u">19</i><i class=y>20</i><i class=y>21</i><i class=y>22</i><i class=b>23</i><i class=b>24</i>
<i class=b>25</i><i class=y>26</i><i class=y>27</i><i class=y>28</i><i class=y>29</i><i class=b>30</i><i class=b>31</i>
<i></i><i></i><i></i><i></i><i></i><i></i><i></i>
</div>

<div class="m c" style="left:336px;top:1622px"><i class=h>April</i><i class=d>Su</i><i class=d>Mo</i><i class=d>Tu</i><i class=d>We</i><i class=d>Th</i><i class=d>Fr</i><i class=d>Sa</i>
<i></i><i></i><i></i><i class=g>1</i><i class=g>2</i><i class=r>3</i><i class=r>4</i>
<i class=r>5</i><i class=g>6</i><i class=g>7</i><i class=g>8</i><i class=g>9</i><i class=r>10</i><i class=r>11</i>
<i class=r>12</i><i class=g>13</i><i class=g>14</i><i class=g>15</i><i class=g>16</i><i class=r>17</i><i class=r>18</i>
<i class=r>19</i><i class=g>20</i><i class=g>21</i><i class=g>22</i><i class=g>23</i><i class=r>24</i><i class=r>25</i>
<i class=r>26</i><i class=g>27</i><i class=g>28</i><i class=g>29</i><i class=g>30</i><i></i><i></i>
<i></i><i></i><i></i><i></i><i></i><i></i><i></i>
</div>

<div class="m c" style="left:592px;top:1622px"><i class=h>July</i><i class=d>Su</i><i class=d>Mo</i><i class=d>Tu</i><i class=d>We</i><i class=d>Th</i><i class=d>Fr</i><i class=d>Sa</i>
<i></i><i></i><i></i><i class=l>1</i><i class="l k">2</i><i class="b x">3</i><i class=b>4</i>
<i class=b>5</i><i class=l>6</i><i class=l>7</i><i class=l>8</i><i class=l>9</i><i class=b>10</i><i class=b>11</i>
<i class=b>12</i><i class=l>13</i><i class=l>14</i><i class=l>15</i><i class=l>16</i><i class=b>17</i><i class=b>18</i>
<i class=b>19</i><i class=l>20</i><i class=l>21</i><i class=l>22</i><i class=l>23</i><i class=b>24</i><i class=b>25</i>
<i class=b>26</i><i class=l>27</i><i class=l>28</i><i class=l>29</i><i class=l>30</i><i class=b>31</i><i></i>
<i></i><i></i><i></i><i></i><i></i><i></i><i></i>
</div>

<div class="m c" style="left:847.5px;top:1622px"><i class=h>October</i><i class=d>Su</i><i class=d>Mo</i><i class=d>Tu</i><i class=d>We</i><i class=d>Th</i><i class=d>Fr</i><i class=d>Sa</i>
<i></i><i></i><i></i><i></i><i class=y>1</i><i class="b x">2</i><i class="b x">3</i>
<i class=b>4</i><i class=y>5</i><i class=y>6</i><i class=y>7</i><i class=y>8</i><i class="b x">9</i><i class="b x">10</i>
<i class=b>11</i><i class=y>12</i><i class=y>13</i><i class=y>14</i><i class=y>15</i><i class="b x">16</i><i class="b x">17</i>
<i class=b>18</i><i class=y>19</i><i class=y>20</i><i class=y>21</i><i class=y>22</i><i class=b>23</i><i class=b>24</i>
<i class=b>25</i><i class=y>26</i><i class=y>27</i><i class=y>28</i><i class=y>29</i><i class="b u">30</i><i class=b>31</i>
<i></i><i></i><i></i><i></i><i></i><i></i><i></i>
</div>

<div class="m c" style="left:81px;top:1863px"><i class=h>February</i><i class=d>Su</i><i class=d>Mo</i><i class=d>Tu</i><i class=d>We</i><i class=d>Th</i><i class=d>Fr</i><i class=d>Sa</i>
<i class=b>1</i><i class=y>2</i><i class=y>3</i><i class=y>4</i><i class=y>5</i><i class=b>6</i><i class=b>7</i>
<i class=b>8</i><i class=y>9</i><i class=y>10</i><i class=y>11</i><i class=y>12</i><i class=b>13</i><i class=b>14</i>
<i class=b>15</i><i class=y>16</i><i class=y>17</i><i class=y>18</i><i class=y>19</i><i class=b>20</i><i class=b>21</i>
<i class=b>22</i><i class="y k x">23</i><i class=y>24</i><i class=y>25</i><i class=y>26</i><i class=b>27</i><i class=b>28</i>
<i></i><i></i><i></i><i></i><i></i><i></i><i></i>
<i></i><i></i><i></i><i></i><i></i><i></i><i></i>
</div>

<div class="m c" style="left:336px;top:1863px"><i class=h>May</i><i class=d>Su</i><i class=d>Mo</i><i class=d>Tu</i><i class=d>We</i><i class=d>Th</i><i class=d>Fr</i><i class=d>Sa</i>
<i></i><i></i><i></i><i></i><i></i><i class=b>1</i><i class=b>2</i>
<i class=b>3</i><i class=y>4</i><i class=y>5</i><i class=y>6</i><i class=y>7</i><i class=b>8</i><i class=b>9</i>
<i class=b>10</i><i class=y>11</i><i class=y>12</i><i class=y>13</i><i class=y>14</i><i class=b>15</i><i class=b>16</i>
<i class=b>17</i><i class=y>18</i><i class=y>19</i><i class=y>20</i><i class=y>21</i><i class=b>22</i><i class=b>23</i>
<i class=b>24</i><i class="y k x">25</i><i class=y>26</i><i class=y>27</i><i class=y>28</i><i class=b>29</i><i class=b>30</i>
<i class=b>31</i><i></i><i></i><i></i><i></i><i></i><i></i>
</div>

<div class="m c" style="left:592px;top:1863px"><i class=h>August</i><i class=d>Su</i><i class=d>Mo</i><i class=d>Tu</i><i class=d>We</i><i class=d>Th</i><i class=d>Fr</i><i class=d>Sa</i>
<i></i><i></i><i></i><i></i><i></i><i></i><i class=b>1</i>
<i class=b>2</i><i class=l>3</i><i class=l>4</i><i class=l>5</i><i class=l>6</i><i class=b>7</i><i class=b>8</i>
<i class=b>9</i><i class=l>10</i><i class=l>11</i><i class=l>12</i><i class=l>13</i><i class=b>14</i><i class=b>15</i>
<i class=b>16</i><i class=l>17</i><i class=l>18</i><i class=l>19</i><i class=l>20</i><i class=b>21</i><i class=b>22</i>
<i class=b>23</i><i class=l>24</i><i class=l>25</i><i class=l>26</i><i class=l>27</i><i class=b>28</i><i class=b>29</i>
<i class=b>30</i><i class=l>31</i><i></i><i></i><i></i><i></i><i></i>
</div>

<div class="m c" style="left:847.5px;top:1863px"><i class=h>November</i><i class=d>Su</i><i class=d>Mo</i><i class=d>Tu</i><i class=d>We</i><i class=d>Th</i><i class=d>Fr</i><i class=d>Sa</i>
<i class=b>1</i><i class=y>2</i><i class=y>3</i><i class=y>4</i><i class=y>5</i><i class=b>6</i><i class=b>7</i>
<i class=b>8</i><i class=y>9</i><i class=y>10</i><i class=y>11</i><i class=y>12</i><i class=b>13</i><i class=b>14</i>
<i class=b>15</i><i class=y>16</i><i class="y x">17</i><i class=y>18</i><i class=y>19</i><i class=b>20</i><i class=b>21</i>
<i class=b>22</i><i class=y>23</i><i class=y>24</i><i class=y>25</i><i class="y k">26</i><i class=b>27</i><i class=b>28</i>
<i class=b>29</i><i class=y>30</i><i></i><i></i><i class=k></i><i></i><i></i>
<i></i><i></i><i></i><i></i><i></i><i></i><i></i>
</div>

<div class="m c" style="left:81px;top:2094px"><i class=h>March</i><i class=d>Su</i><i class=d>Mo</i><i class=d>Tu</i><i class=d>We</i><i class=d>Th</i><i class=d>Fr</i><i class=d>Sa</i>
<i class=r>1</i><i class=g>2</i><i class=g>3</i><i class=g>4</i><i class=g>5</i><i class=r>6</i><i class=r>7</i>
<i class=r>8</i><i class=g>9</i><i class=g>10</i><i class=g>11</i><i class=g>12</i><i class=r>13</i><i class=r>14</i>
<i class=r>15</i><i class=g>16</i><i class=g>17</i><i class=g>18</i><i class=g>19</i><i class=r>20</i><i class=r>21</i>
<i class=r>22</i><i class=g>23</i><i class=g>24</i><i class=g>25</i><i class=g>26</i><i class=r>27</i><i class=r>28</i>
<i class=r>29</i><i class=g>30</i><i class=g>31</i><i></i><i></i><i></i><i></i>
<i></i><i></i><i></i><i></i><i></i><i></i><i></i>
</div>

<div class="m c" style="left:336px;top:2094px"><i class=h>June</i><i class=d>Su</i><i class=d>Mo</i><i class=d>Tu</i><i class=d>We</i><i class=d>Th</i><i class=d>Fr</i><i class=d>Sa</i>
<i class=q>1</i><i class=l>2</i><i class=l>2</i><i class=l>3</i><i class=l>4</i><i class=q>5</i><i class=q>6</i>
<i class=q>7</i><i class=l>8</i><i class=l>9</i><i class=l>10</i><i class=l>11</i><i class=q>12</i><i class=q>13</i>
<i class=q>14</i><i class=l>15</i><i class=l>16</i><i class=l>17</i><i class="l x u">18</i><i class=q>19</i><i class=q>20</i>
<i class=q>21</i><i class=l>22</i><i class=l>23</i><i class=l>24</i><i class=l>25</i><i class=q>26</i><i class=q>27</i>
<i class=q>28</i><i class=l>29</i><i class=l>30</i><i></i><i></i><i></i><i></i>
<i></i><i></i><i></i><i></i><i></i><i></i><i></i>
</div>

<div class="m c" style="left:592px;top:2094px"><i class=h>September</i><i class=d>Su</i><i class=d>Mo</i><i class=d>Tu</i><i class=d>We</i><i class=d>Th</i><i class=d>Fr</i><i class=d>Sa</i>
<i></i><i class=k></i><i class=y>1</i><i class=y>2</i><i class=y>3</i><i class=q>4</i><i class=q>5</i>
<i class=q>6</i><i class="y k">7</i><i class=y>8</i><i class=y>9</i><i class=y>10</i><i class=q>11</i><i class=q>12</i>
<i class=q>13</i><i class=y>14</i><i class=y>15</i><i class=y>16</i><i class=y>17</i><i class=q>18</i><i class=q>19</i>
<i class=q>20</i><i class=y>21</i><i class=y>22</i><i class=y>23</i><i class=y>24</i><i class="q x">25</i><i class="q x">26</i>
<i class=q>27</i><i class=y>28</i><i class=y>29</i><i class=y>30</i><i></i><i></i><i></i>
<i></i><i></i><i></i><i></i><i></i><i></i><i></i>
</div>

<div class="m c" style="left:847.5px;top:2094px"><i class=h>December</i><i class=d>Su</i><i class=d>Mo</i><i class=d>Tu</i><i class=d>We</i><i class=d>Th</i><i class=d>Fr</i><i class=d>Sa</i>
<i></i><i></i><i class=l>1</i><i class=l>2</i><i class=l>3</i><i class=q>4</i><i class=q>5</i>
<i class=q>6</i><i class=l>7</i><i class=l>8</i><i class=l>9</i><i class=l>10</i><i class=q>11</i><i class=q>12</i>
<i class=q>13</i><i class=l>14</i><i class=l>15</i><i class=l>16</i><i class=l>17</i><i class=q>18</i><i class=q>19</i>
<i class=q>20</i><i class=l>21</i><i class=l>22</i><i class="l k it">23</i><i class="l x u">24</i><i class=q>25</i><i class=q>26</i>
<i class=q>27</i><i class=l>28</i><i class=l>29</i><i class="l x u">30</i><i class=l>31</i><i></i><i></i>
<i></i><i></i><i></i><i></i><i></i><i></i><i></i>
</div>

<!-- Legend 3 -->
<div class="p B u" style="left:1168px;top:1648px;width:124px;height:26px;line-height:26px;background:#ffff00;font-size:13px;padding-left:3px">FINAL 2026</div>
<div class="t B" style="left:1294px;top:1647px;width:308px;height:28px;background:#d9d9d9;font-size:12px">STREET Parking Hourly Rates &amp; Times</div>
<div class="p B" style="left:1172px;top:1675px;line-height:24px;font-size:13px">May - February</div>
<div class="t B" style="left:1294px;top:1673px;width:93px;height:27px;font-size:11px">Hourly Rate</div>
<div class="t B" style="left:1385px;top:1673px;width:101px;height:27px;font-size:11px">Start Time</div>
<div class="t B" style="left:1484px;top:1673px;width:118px;height:27px;font-size:11px">End Time</div>

<div class="t L" style="left:1167px;top:1698px;width:129px;height:28px;background:#fff2cc;font-size:13px">ACTIVE M-TH</div>
<div class="t" style="left:1294px;top:1698px;width:93px;height:28px;font-size:15px">$3.00</div>
<div class="t" style="left:1385px;top:1698px;width:101px;height:28px;font-size:15px">9:00 AM</div>
<div class="t" style="left:1484px;top:1698px;width:118px;height:28px;font-size:15px">5:00 PM</div>

<div class="t B L T" style="left:1167px;top:1724px;width:129px;height:28px;background:#ddebf7;font-size:9px">BUSY M-TH</div>
<div class="t" style="left:1294px;top:1724px;width:93px;height:28px;font-size:15px">$4.50</div>
<div class="t" style="left:1385px;top:1724px;width:101px;height:28px;font-size:15px">9:00 AM</div>
<div class="t" style="left:1484px;top:1724px;width:118px;height:28px;font-size:15px">5:00 PM</div>

<div class="t B L T" style="left:1167px;top:1750px;width:129px;height:28px;background:#2f5597;color:#fff;font-size:10.5px">Busy F-SUN</div>
<div class="t B" style="left:1294px;top:1750px;width:93px;height:28px;font-size:15px">$4.50</div>
<div class="t B" style="left:1385px;top:1750px;width:101px;height:28px;font-size:15px">9:00 AM</div>
<div class="t B" style="left:1484px;top:1750px;width:118px;height:28px;font-size:15px">8:00 PM</div>

<div class="p B" style="left:1172px;top:1778px;line-height:24px;font-size:13px">March &amp; April</div>

<div class="t L T" style="left:1167px;top:1801px;width:129px;height:27px;background:#e2efda;font-size:11px">Shoulder M-TH</div>
<div class="t" style="left:1294px;top:1801px;width:93px;height:27px;font-size:15px">$2.00</div>
<div class="t" style="left:1385px;top:1801px;width:101px;height:27px;font-size:15px">9:00 AM</div>
<div class="t" style="left:1484px;top:1801px;width:118px;height:27px;font-size:15px">5:00 PM</div>

<div class="t B L T" style="left:1167px;top:1826px;width:129px;height:36px;background:#ff4b4b;color:#fff;font-size:10px">WK END SHOULDER</div>
<div class="t B" style="left:1294px;top:1826px;width:93px;height:36px;font-size:15px;align-items:flex-start;padding-top:6px">$4.00</div>
<div class="t B" style="left:1385px;top:1826px;width:101px;height:36px;font-size:15px;align-items:flex-start;padding-top:6px">9:00 AM</div>
<div class="t B" style="left:1484px;top:1826px;width:118px;height:36px;font-size:15px;align-items:flex-start;padding-top:6px">8:00 PM</div>

</body></html>
